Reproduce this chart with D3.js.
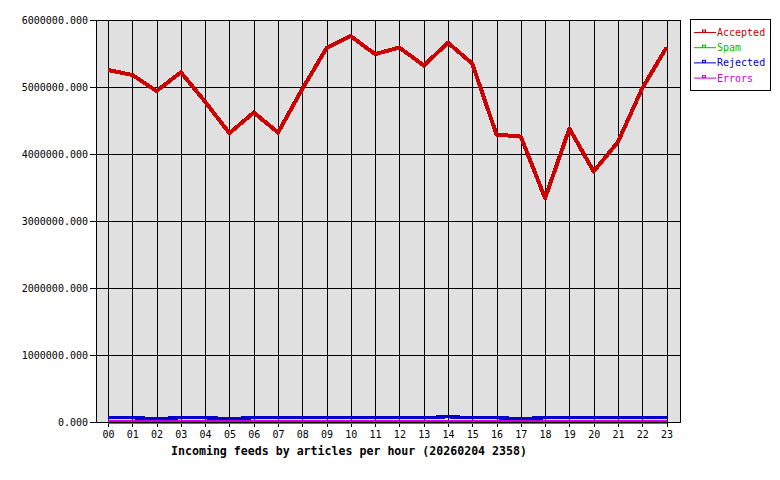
<!DOCTYPE html>
<html>
<head>
<meta charset="utf-8">
<script src="https://d3js.org/d3.v7.min.js"></script>
<style>
  html, body { margin: 0; padding: 0; background: #fff; }
  svg text { font-family: "DejaVu Sans Mono", monospace; }
  .tick-label { font-size: 10px; fill: #000; }
  .title { font-size: 11.6px; font-weight: bold; fill: #000; }
  .legend text { font-size: 10px; }
</style>
</head>
<body>
<div id="chart"></div>
<script>
var hours = ["00","01","02","03","04","05","06","07","08","09","10","11",
             "12","13","14","15","16","17","18","19","20","21","22","23"];

var accepted = [5254000, 5180000, 4940000, 5220000, 4780000, 4310000, 4620000, 4320000,
                4970000, 5580000, 5760000, 5490000, 5590000, 5320000, 5660000, 5350000,
                4290000, 4260000, 3340000, 4380000, 3740000, 4180000, 4980000, 5590000];
var spam     = [0,0,0,0,0,0,0,0,0,0,0,0,0,0,0,0,0,0,0,0,0,0,0,0];
var rejected = [64000, 64000, 50000, 64000, 64000, 50000, 64000, 64000, 64000, 64000, 64000, 64000,
                64000, 64000, 79000, 64000, 64000, 50000, 64000, 64000, 64000, 64000, 64000, 64000];
var errors   = [15000,15000,15000,15000,15000,15000,15000,15000,15000,15000,15000,15000,
                15000,15000,15000,15000,15000,15000,15000,15000,15000,15000,15000,15000];

var yTicks = [0, 1000000, 2000000, 3000000, 4000000, 5000000, 6000000];

var series = [
  {name: "Accepted", color: "#cc0000", values: accepted, width: 4},
  {name: "Spam",     color: "#00bb00", values: spam,     width: 3},
  {name: "Rejected", color: "#0000cc", values: rejected, width: 3.4},
  {name: "Errors",   color: "#cc00cc", values: errors,   width: 2.6}
];

var W = 780, H = 480;
var plot = {left: 96, right: 680, top: 20, bottom: 422};

var svg = d3.select("#chart").append("svg")
    .attr("width", W).attr("height", H);

svg.append("rect").attr("width", W).attr("height", H).attr("fill", "#fff");

var x = d3.scalePoint().domain(hours).range([108, 666.5]);
var y = d3.scaleLinear().domain([0, 6000000]).range([plot.bottom, plot.top]);
var fmt = d3.format(".3f");

// plot background
svg.append("rect")
    .attr("x", plot.left).attr("y", plot.top)
    .attr("width", plot.right - plot.left).attr("height", plot.bottom - plot.top)
    .attr("fill", "#e0e0e0");

var grid = svg.append("g").attr("stroke", "#000").attr("stroke-width", 1).attr("shape-rendering", "crispEdges");

// horizontal grid + y ticks
grid.selectAll(".hg").data(yTicks).enter().append("line")
    .attr("x1", plot.left - 6).attr("x2", plot.right)
    .attr("y1", function(d) { return Math.round(y(d)) + 0.5; })
    .attr("y2", function(d) { return Math.round(y(d)) + 0.5; });

// vertical grid + x ticks
grid.selectAll(".vg").data(hours).enter().append("line")
    .attr("x1", function(d) { return Math.round(x(d)) + 0.5; })
    .attr("x2", function(d) { return Math.round(x(d)) + 0.5; })
    .attr("y1", plot.top).attr("y2", plot.bottom + 5);

// frame
grid.append("line").attr("x1", plot.left + 0.5).attr("x2", plot.left + 0.5)
    .attr("y1", plot.top).attr("y2", plot.bottom + 1);
grid.append("line").attr("x1", plot.right + 0.5).attr("x2", plot.right + 0.5)
    .attr("y1", plot.top).attr("y2", plot.bottom + 1);

// y labels
svg.selectAll(".ylab").data(yTicks).enter().append("text")
    .attr("class", "tick-label")
    .attr("x", 88).attr("y", function(d) { return y(d) + 3.5; })
    .attr("text-anchor", "end")
    .text(function(d) { return fmt(d); });

// x labels
svg.selectAll(".xlab").data(hours).enter().append("text")
    .attr("class", "tick-label")
    .attr("x", function(d) { return x(d) + 0.5; }).attr("y", 438)
    .attr("text-anchor", "middle")
    .text(function(d) { return d; });

svg.append("text").attr("class", "title")
    .attr("x", 349).attr("y", 455)
    .attr("text-anchor", "middle")
    .text("Incoming feeds by articles per hour (20260204 2358)");

// lines
var line = d3.line()
    .x(function(d, i) { return x(hours[i]); })
    .y(function(d) { return y(d); });

series.forEach(function(s) {
    svg.append("path")
        .attr("d", line(s.values))
        .attr("fill", "none")
        .attr("stroke", s.color)
        .attr("stroke-width", s.width)
        .attr("stroke-linejoin", "round")
        .attr("shape-rendering", "crispEdges");
});

// bottom axis line on top
svg.append("line").attr("x1", plot.left - 6).attr("x2", plot.right + 1)
    .attr("y1", plot.bottom + 0.5).attr("y2", plot.bottom + 0.5)
    .attr("stroke", "#000").attr("shape-rendering", "crispEdges");

// legend
var lg = svg.append("g").attr("class", "legend");
lg.append("rect").attr("x", 690.5).attr("y", 19.5).attr("width", 80).attr("height", 71)
    .attr("fill", "#fff").attr("stroke", "#000");

var items = lg.selectAll(".item").data(series).enter().append("g")
    .attr("transform", function(d, i) { return "translate(0," + (32.5 + i * 15.2) + ")"; });
items.append("line").attr("x1", 694).attr("x2", 716).attr("y1", 0).attr("y2", 0)
    .attr("stroke", function(d) { return d.color; });
items.append("rect").attr("x", 702.5).attr("y", -2.5).attr("width", 3).attr("height", 2)
    .attr("fill", "#fff").attr("stroke", function(d) { return d.color; });
items.append("text").attr("x", 717).attr("y", 3.5)
    .attr("fill", function(d) { return d.color; })
    .text(function(d) { return d.name; });
</script>
</body>
</html>
